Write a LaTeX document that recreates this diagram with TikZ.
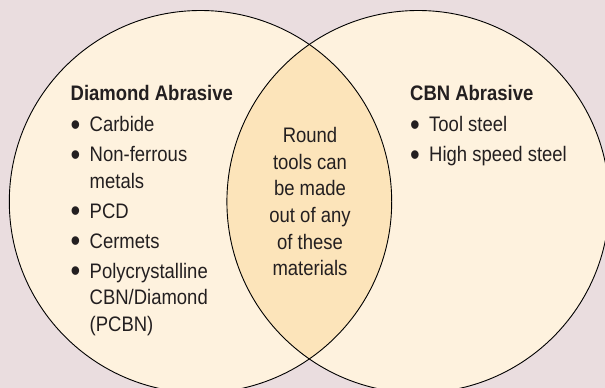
\documentclass[tikz,border=0pt]{standalone}
\usepackage{fontspec}
\setmainfont[FakeStretch=0.88]{Liberation Sans}
\definecolor{VennBack}{RGB}{234,221,223}
\definecolor{VennCream}{RGB}{254,242,222}
\definecolor{VennLens}{RGB}{252,228,186}
\definecolor{VennText}{RGB}{35,31,32}
\newcommand{\bul}{\raisebox{-3.6pt}{\scalebox{1.5}{\textbullet}}}

\begin{document}
\begin{tikzpicture}[
    x=1pt,
    y=-1pt,
    font=\fontsize{21}{26.6}\selectfont,
    ring/.style={
        draw=black,
        line width=0.9pt
    },
    listbox/.style={
        inner sep=0pt,
        anchor=base west,
        text=VennText
    },
    midbox/.style={
        inner sep=0pt,
        anchor=base,
        text=VennText
    }
]

\useasboundingbox (0,0) rectangle (605,388);
\clip (0,0) rectangle (605,388);
\fill[VennBack] (0,0) rectangle (605,388);

% the two sets
\coordinate (diac) at (200.5,201.7);
\coordinate (cbnc) at (418.1,201.7);

\fill[VennCream] (diac) circle[radius=191.2pt];
\fill[VennCream] (cbnc) circle[radius=191.2pt];
\begin{scope}
    \clip (diac) circle[radius=191.2pt];
    \fill[VennLens] (cbnc) circle[radius=191.2pt];
\end{scope}
\draw[ring] (diac) circle[radius=191.2pt];
\draw[ring] (cbnc) circle[radius=191.2pt];

% texts
\node[listbox] (dialist) at (70.5,100) {\begin{tabular}[t]{@{}l@{\hspace{9.3pt}}l@{}}
\multicolumn{2}{@{}l@{}}{\bfseries Diamond Abrasive}\\[5pt]
\bul & Carbide\\[3.4pt]
\bul & Non-ferrous\\
     & metals\\[3.4pt]
\bul & PCD\\[3.4pt]
\bul & Cermets\\[3.4pt]
\bul & Polycrystalline\\
     & CBN/Diamond\\
     & (PCBN)
\end{tabular}};

\node[listbox] (cbnlist) at (410,100) {\begin{tabular}[t]{@{}l@{\hspace{9.3pt}}l@{}}
\multicolumn{2}{@{}l@{}}{\bfseries CBN Abrasive}\\[5pt]
\bul & Tool steel\\[3.4pt]
\bul & High speed steel
\end{tabular}};

\node[midbox] (common) at (310,142.7) {\begin{tabular}[t]{@{}c@{}}
Round\\
tools can\\
be made\\
out of any\\
of these\\
materials
\end{tabular}};

\end{tikzpicture}
\end{document}
